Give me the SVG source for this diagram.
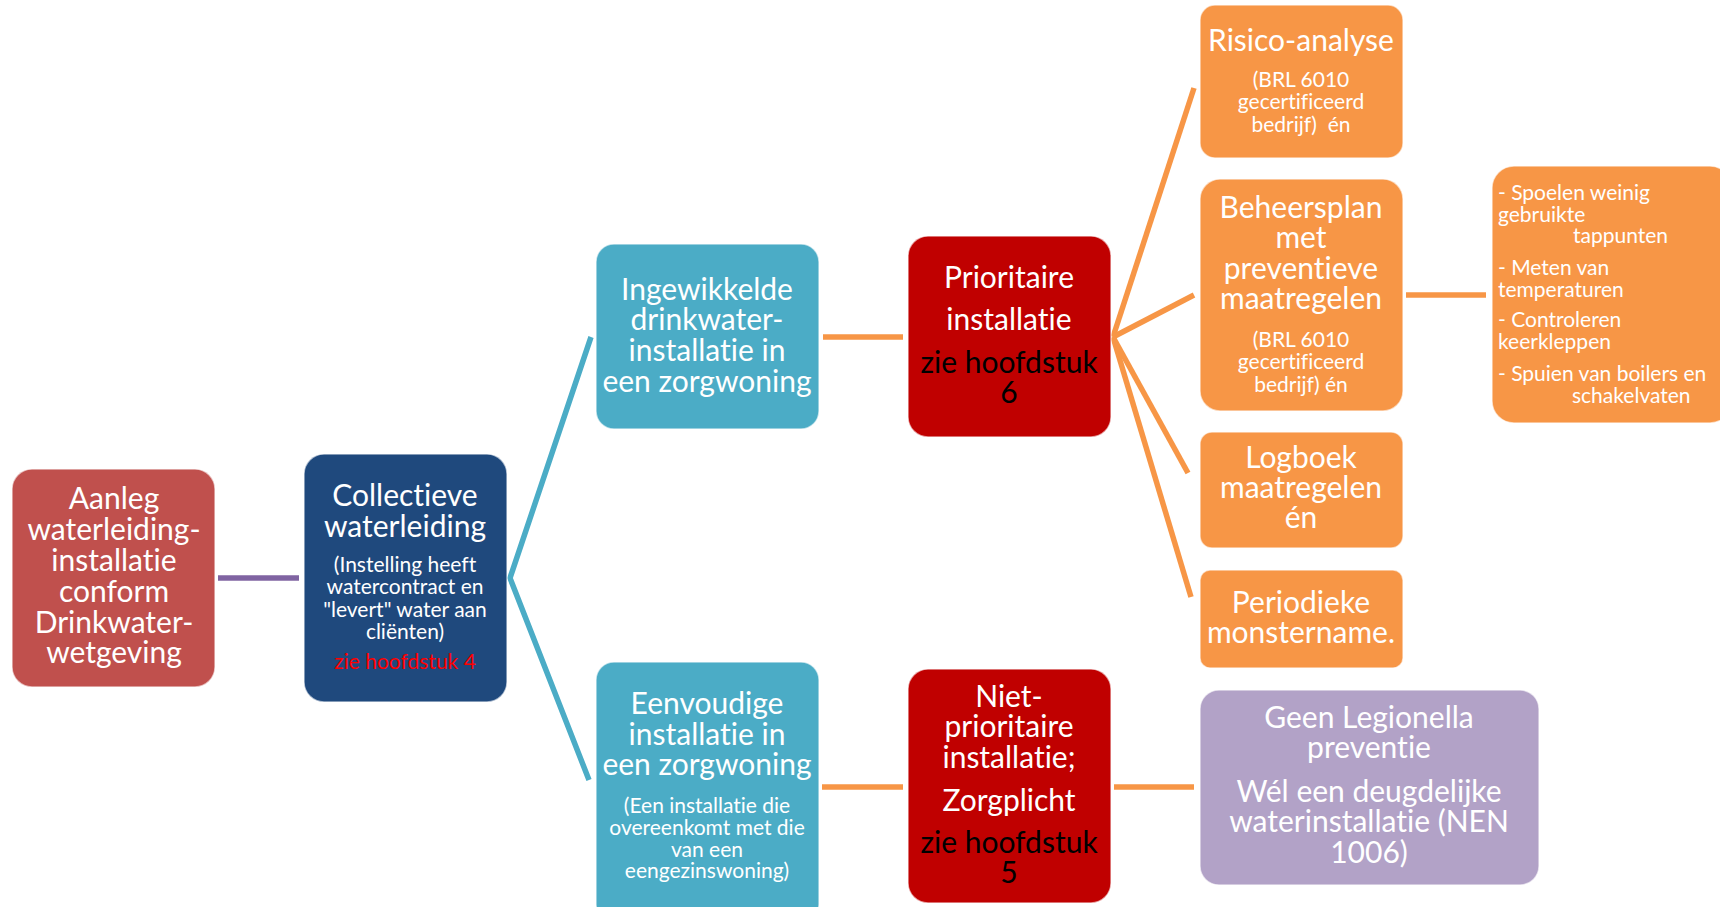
<svg xmlns="http://www.w3.org/2000/svg" width="1720" height="907" viewBox="0 0 1720 907">
<style>
.t{font-family:Lato,"Open Sans","Liberation Sans",sans-serif;fill:#fff;text-anchor:middle;font-variant-ligatures:none;font-feature-settings:"liga" 0}
.m{font-size:30px}
.s{font-size:21px}
.l{text-anchor:start}
.red{fill:#FF0000}
.blk{fill:#000}
.box{stroke:#fff;stroke-width:1.5;stroke-opacity:0.6}
.c{fill:none;stroke-width:5.5}
</style>
<rect width="1720" height="907" fill="#fff"/>
<g id="connectors">
<line class="c" x1="218" y1="578" x2="299" y2="578" stroke="#8064A2"/>
<polyline class="c" points="591,337 510,578 589,780" stroke="#4BACC6" stroke-linejoin="miter"/>
<line class="c" x1="823" y1="337" x2="903" y2="337" stroke="#F79646"/>
<line class="c" x1="822" y1="787" x2="903" y2="787" stroke="#F79646"/>
<line class="c" x1="1114" y1="787" x2="1194" y2="787" stroke="#F79646"/>
<line class="c" x1="1113" y1="337" x2="1194" y2="88" stroke="#F79646"/>
<line class="c" x1="1113" y1="337" x2="1194" y2="295" stroke="#F79646"/>
<line class="c" x1="1113" y1="337" x2="1188" y2="473" stroke="#F79646"/>
<line class="c" x1="1113" y1="337" x2="1191" y2="597" stroke="#F79646"/>
<line class="c" x1="1406" y1="295" x2="1486" y2="295" stroke="#F79646"/>
</g>
<g id="aanleg">
<rect class="box" x="12" y="469" width="203" height="218" rx="20" fill="#C0504D"/>
<text class="t m"><tspan x="114" y="509">Aanleg</tspan><tspan x="114" y="540">waterleiding-</tspan><tspan x="114" y="571">installatie</tspan><tspan x="114" y="602">conform</tspan><tspan x="114" y="633">Drinkwater-</tspan><tspan x="114" y="663">wetgeving</tspan></text>
</g>
<g id="collectieve">
<rect class="box" x="304" y="454" width="203" height="248" rx="20" fill="#1F497D"/>
<text class="t m"><tspan x="405" y="506">Collectieve</tspan><tspan x="405" y="537">waterleiding</tspan></text>
<text class="t s"><tspan x="405" y="572">(Instelling heeft</tspan><tspan x="405" y="594">watercontract en</tspan><tspan x="405" y="617">"levert" water aan</tspan><tspan x="405" y="639">cliënten)</tspan></text>
<text class="t s red" x="405" y="669">zie hoofdstuk 4</text>
</g>
<g id="ingewikkelde">
<rect class="box" x="596" y="244" width="223" height="185" rx="18" fill="#4BACC6"/>
<text class="t m"><tspan x="707" y="300">Ingewikkelde</tspan><tspan x="707" y="330">drinkwater-</tspan><tspan x="707" y="361">installatie in</tspan><tspan x="707" y="392">een zorgwoning</tspan></text>
</g>
<g id="eenvoudige">
<rect class="box" x="596" y="662" width="223" height="260" rx="18" fill="#4BACC6"/>
<text class="t m"><tspan x="707" y="714">Eenvoudige</tspan><tspan x="707" y="745">installatie in</tspan><tspan x="707" y="775">een zorgwoning</tspan></text>
<text class="t s"><tspan x="707" y="813">(Een installatie die</tspan><tspan x="707" y="835">overeenkomt met die</tspan><tspan x="707" y="857">van een</tspan><tspan x="707" y="878">eengezinswoning)</tspan></text>
</g>
<g id="prioritaire">
<rect class="box" x="908" y="236" width="203" height="201" rx="20" fill="#C00000"/>
<text class="t m"><tspan x="1009" y="288">Prioritaire</tspan><tspan x="1009" y="330">installatie</tspan></text>
<text class="t m blk"><tspan x="1009" y="373">zie hoofdstuk</tspan><tspan x="1009" y="403">6</tspan></text>
</g>
<g id="niet-prioritaire">
<rect class="box" x="908" y="669" width="203" height="234" rx="20" fill="#C00000"/>
<text class="t m"><tspan x="1009" y="707">Niet-</tspan><tspan x="1009" y="737">prioritaire</tspan><tspan x="1009" y="768">installatie;</tspan><tspan x="1009" y="811">Zorgplicht</tspan></text>
<text class="t m blk"><tspan x="1009" y="853">zie hoofdstuk</tspan><tspan x="1009" y="883">5</tspan></text>
</g>
<g id="risico">
<rect class="box" x="1200" y="5" width="203" height="153" rx="15" fill="#F79646"/>
<text class="t m" x="1301" y="51">Risico-analyse</text>
<text class="t s"><tspan x="1301" y="87">(BRL 6010</tspan><tspan x="1301" y="109">gecertificeerd</tspan><tspan x="1301" y="132">bedrijf)&#160; én</tspan></text>
</g>
<g id="beheersplan">
<rect class="box" x="1200" y="179" width="203" height="232" rx="20" fill="#F79646"/>
<text class="t m"><tspan x="1301" y="218">Beheersplan</tspan><tspan x="1301" y="248">met</tspan><tspan x="1301" y="279">preventieve</tspan><tspan x="1301" y="309">maatregelen</tspan></text>
<text class="t s"><tspan x="1301" y="347">(BRL 6010</tspan><tspan x="1301" y="369">gecertificeerd</tspan><tspan x="1301" y="392">bedrijf) én</tspan></text>
</g>
<g id="maatregelen-lijst">
<rect class="box" x="1492" y="166" width="240" height="257" rx="22" fill="#F79646"/>
<text class="t s l"><tspan x="1498" y="200">- Spoelen weinig</tspan><tspan x="1498" y="222">gebruikte</tspan><tspan x="1573" y="243">tappunten</tspan><tspan x="1498" y="275">- Meten van</tspan><tspan x="1498" y="297">temperaturen</tspan><tspan x="1498" y="327">- Controleren</tspan><tspan x="1498" y="349">keerkleppen</tspan><tspan x="1498" y="381">- Spuien van boilers en</tspan><tspan x="1572" y="403">schakelvaten</tspan></text>
</g>
<g id="logboek">
<rect class="box" x="1200" y="432" width="203" height="116" rx="12" fill="#F79646"/>
<text class="t m"><tspan x="1301" y="468">Logboek</tspan><tspan x="1301" y="498">maatregelen</tspan><tspan x="1301" y="528">én</tspan></text>
</g>
<g id="periodieke">
<rect class="box" x="1200" y="570" width="203" height="98" rx="10" fill="#F79646"/>
<text class="t m"><tspan x="1301" y="613">Periodieke</tspan><tspan x="1301" y="643">monstername.</tspan></text>
</g>
<g id="geen-legionella">
<rect class="box" x="1200" y="690" width="339" height="195" rx="19" fill="#B2A2C7"/>
<text class="t m"><tspan x="1369" y="728">Geen Legionella</tspan><tspan x="1369" y="758">preventie</tspan><tspan x="1369" y="802">Wél een deugdelijke</tspan><tspan x="1369" y="832">waterinstallatie (NEN</tspan><tspan x="1369" y="863">1006)</tspan></text>
</g>
</svg>
